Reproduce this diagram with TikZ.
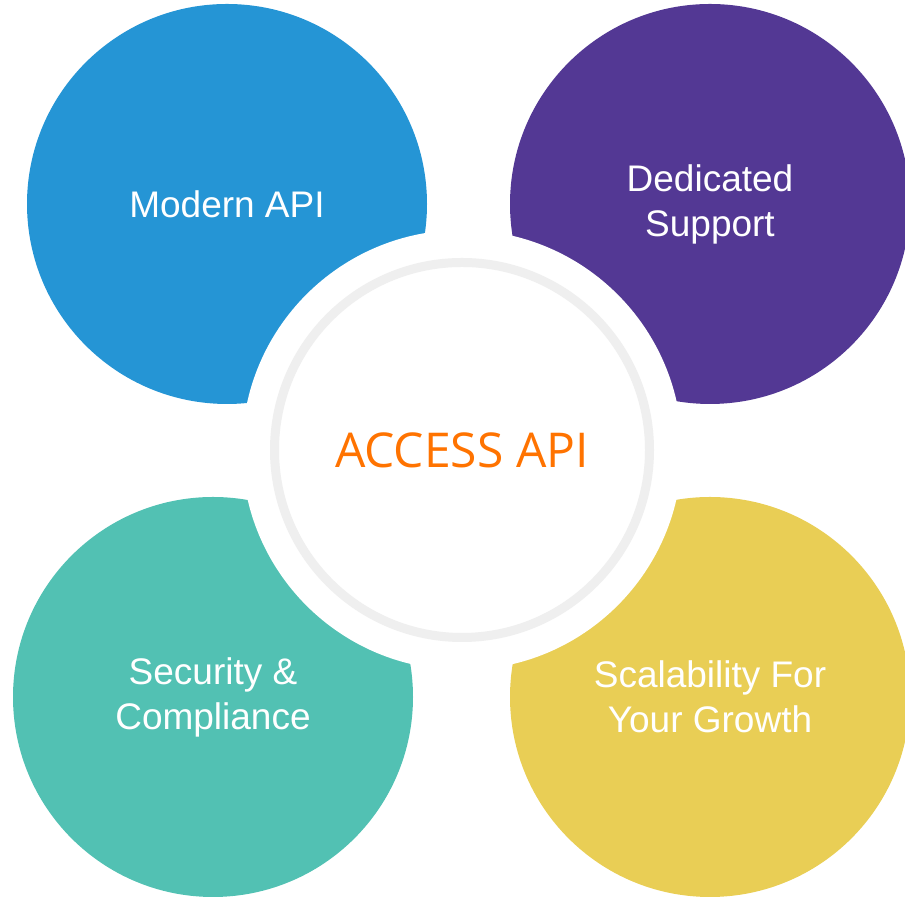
\documentclass[tikz,border=0pt]{standalone}
\usepackage{fontspec}
\setmainfont{Liberation Sans}
\newfontfamily\hubfont{Open Sans}
\usepackage{xcolor}
\definecolor{apiblue}{HTML}{2595D5}
\definecolor{apipurple}{HTML}{533894}
\definecolor{apiteal}{HTML}{52C1B3}
\definecolor{apiyellow}{HTML}{E9CE55}
\definecolor{apiorange}{HTML}{FF7300}
\definecolor{ringgray}{HTML}{EFEFEF}
\tikzset{
  bub/.style={circle,fill=#1,minimum size=200pt,inner sep=0pt,text=white,align=center,font=\fontsize{18.5}{22.5}\selectfont},
  gap/.style={circle,fill=white,minimum size=220pt,inner sep=0pt},
  ring/.style={circle,draw=ringgray,line width=4.5pt,minimum size=187.5pt,inner sep=0pt},
  hub/.style={text=apiorange,font=\hubfont\fontsize{24}{28}\selectfont}
}

\begin{document}
\begin{tikzpicture}[x=0.5pt,y=0.5pt]
\useasboundingbox (0,0) rectangle (905,897);
\node[bub=apiblue] (modern) at (227,693) {Modern API};
\node[bub=apipurple] (support) at (710,693) {Dedicated\\Support};
\node[bub=apiteal] (security) at (213,200) {Security \&\\Compliance};
\node[bub=apiyellow] (scale) at (710,200) {Scalability For\\Your Growth};
\node[gap] (cutout) at (462,447) {};
\node[ring] (rim) at (cutout) {};
\node[hub] (access) at (cutout) {ACCESS API};
\end{tikzpicture}
\end{document}
